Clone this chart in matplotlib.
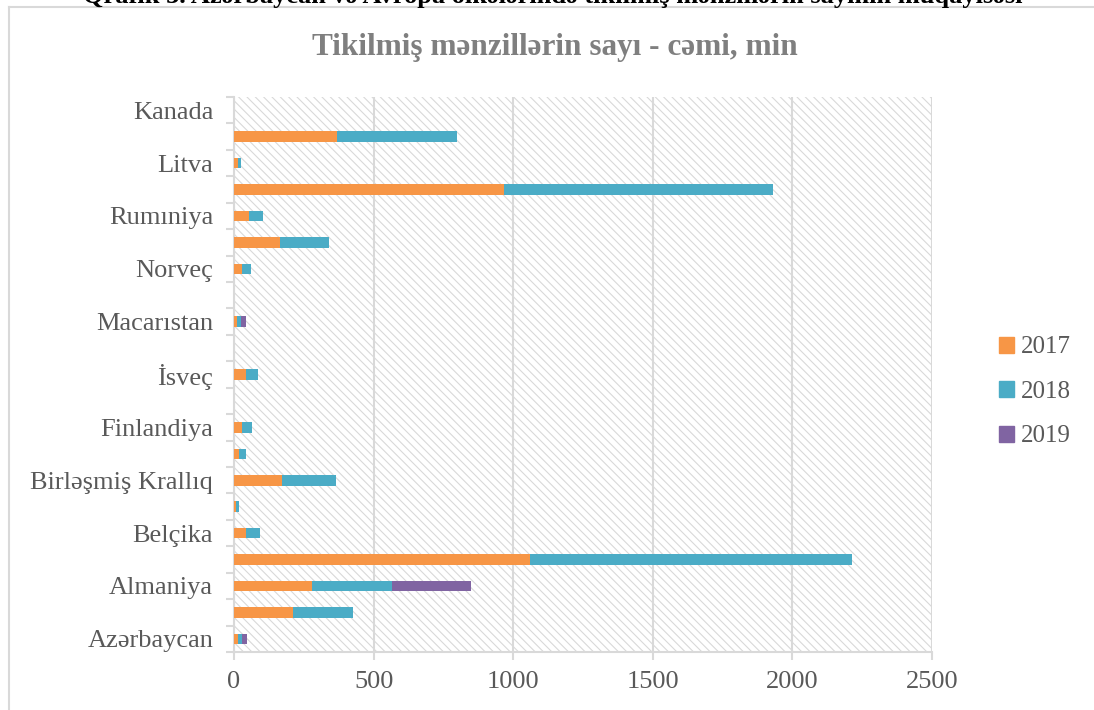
import matplotlib.pyplot as plt
from matplotlib.patches import Rectangle
from matplotlib.lines import Line2D
import numpy as np

plt.rcParams['font.family'] = ['Liberation Serif', 'DejaVu Serif']
plt.rcParams['hatch.linewidth'] = 0.8
plt.rcParams['hatch.color'] = '#d9d9d9'

countries = ['Azərbaycan', '', 'Almaniya', '', 'Belçika', '', 'Birləşmiş Krallıq', '',
             'Finlandiya', '', 'İsveç', '', 'Macarıstan', '', 'Norveç', '', 'Rumıniya', '',
             'Litva', '', 'Kanada']
v2017 = [15, 212, 278, 1060, 44, 8, 172, 19, 30, 0, 42, 0, 11, 0, 29, 164, 53, 967, 13, 370, 0]
v2018 = [14, 214, 287, 1152, 50, 10, 193, 23, 36, 0, 43, 0, 14, 0, 32, 176, 51, 963, 11, 429, 0]
v2019 = [18, 0, 283, 0, 0, 0, 0, 0, 0, 0, 0, 0, 17, 0, 0, 0, 0, 0, 0, 0, 0]
years = ['2017', '2018', '2019']
colors = ['#F79646', '#4BACC6', '#8064A2']

txt = '#595959'
grid = '#d9d9d9'

fig = plt.figure(figsize=(10.94, 7.10), dpi=100)
ax = fig.add_axes([234 / 1094, 1 - 652 / 710, (932 - 234) / 1094, (652 - 97) / 710])

y = np.arange(len(countries))
left = np.zeros(len(countries))
for vals, lab, c in zip([v2017, v2018, v2019], years, colors):
    ax.barh(y, vals, left=left, height=0.4, color=c, label=lab, zorder=3)
    left += np.array(vals)

ax.set_xlim(0, 2500)
ax.set_ylim(-0.5, len(countries) - 0.5)

# hatched plot background
ax.add_patch(Rectangle((0, 0), 1, 1, transform=ax.transAxes, facecolor='white',
                       edgecolor=grid, hatch='\\\\\\\\', lw=0, zorder=0))

ax.set_xticks([0, 500, 1000, 1500, 2000, 2500])
ax.set_yticks(y)
ax.set_yticklabels(countries)
ax.set_yticks(np.arange(-0.5, len(countries), 1), minor=True)
ax.tick_params(axis='y', which='major', length=0, pad=15, labelsize=19, labelcolor=txt)
ax.tick_params(axis='y', which='minor', length=6, width=1.5, color=grid)
ax.tick_params(axis='x', length=6, width=1.5, color=grid, labelsize=19, labelcolor=txt, pad=8)
ax.grid(axis='x', color=grid, lw=1.5, zorder=1)
for s in ['top', 'right']:
    ax.spines[s].set_visible(False)
for s in ['left', 'bottom']:
    ax.spines[s].set_color(grid)
    ax.spines[s].set_linewidth(1.5)
    ax.spines[s].set_zorder(2)

fig.text(0.507, 1 - 47 / 710, 'Tikilmiş mənzillərin sayı - cəmi, min', ha='center', va='center',
         fontsize=22.5, fontweight='bold', color='#7f7f7f')

# cut-off caption above the chart frame
fig.text(0.505, 1 - 3 / 710, 'Qrafik 3. Azərbaycan və Avropa ölkələrində tikilmiş mənzillərin sayının müqayisəsi',
         ha='center', va='baseline', fontsize=19, fontweight='bold', color='black')

# chart frame
fig.add_artist(Line2D([9 / 1094, 1], [1 - 7 / 710, 1 - 7 / 710], color=grid, lw=1.5))
fig.add_artist(Line2D([9 / 1094, 9 / 1094], [0, 1 - 7 / 710], color=grid, lw=1.5))

handles = [Rectangle((0, 0), 1, 1, color=c) for c in colors]
leg = fig.legend(handles, years, loc='center left', bbox_to_anchor=(0.893, 0.448), frameon=False,
                 fontsize=18, handlelength=0.6, handleheight=0.6, handletextpad=0.25, labelspacing=0.9)
for t in leg.get_texts():
    t.set_color(txt)

fig.savefig('out.png', dpi=100)
